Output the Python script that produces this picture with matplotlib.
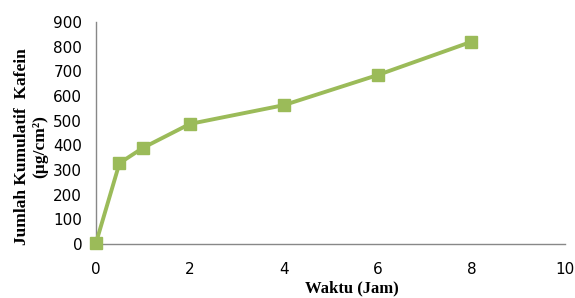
import matplotlib
matplotlib.use("Agg")
import matplotlib.pyplot as plt

# data
waktu = [0, 0.5, 1, 2, 4, 6, 8]
kafein = [5, 328, 390, 487, 563, 685, 820]
xticks = [0, 2, 4, 6, 8, 10]
yticks = [0, 100, 200, 300, 400, 500, 600, 700, 800, 900]

hijau = "#9bbb59"

fig = plt.figure(figsize=(5.75, 2.98), dpi=100)
ax = fig.add_axes([0.167, 0.181, 0.816, 0.745])

ax.plot(waktu, kafein, color=hijau, lw=2.8, marker="s", ms=9,
        markerfacecolor=hijau, markeredgecolor=hijau, clip_on=False, zorder=3)

ax.set_xlim(0, 10)
ax.set_ylim(0, 900)
ax.set_xticks(xticks)
ax.set_yticks(yticks)
ax.tick_params(length=0, labelsize=11, colors="black")
ax.tick_params(axis="x", pad=13)
ax.tick_params(axis="y", pad=10)

for s in ["top", "right"]:
    ax.spines[s].set_visible(False)
for s in ["left", "bottom"]:
    ax.spines[s].set_color("#888888")
    ax.spines[s].set_linewidth(1)

ax.set_xlabel("Waktu (Jam)", family="Liberation Serif", fontweight="bold",
              fontsize=12)
ax.xaxis.set_label_coords(0.545, -0.165)
ax.xaxis.label.set_va("top")
ax.set_ylabel("Jumlah Kumulatif  Kafein\n(µg/cm²)", family="Liberation Serif",
              fontweight="bold", fontsize=12.5, linespacing=1.15)
ax.yaxis.set_label_coords(-0.102, 0.44)

fig.savefig("out.png", dpi=100)
